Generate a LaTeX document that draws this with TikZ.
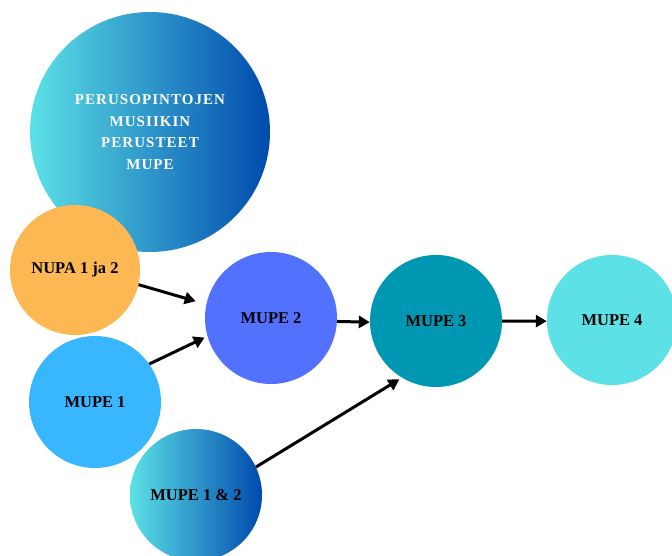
\documentclass[tikz,border=0pt]{standalone}
\usepackage{fontspec}
\setmainfont{Liberation Serif}
\newfontfamily\spacedfont[LetterSpace=7]{Liberation Serif}
\usetikzlibrary{arrows.meta}
\definecolor{gradL}{HTML}{5CE1E6}
\definecolor{gradR}{HTML}{004AAD}
\definecolor{nupaC}{HTML}{FDB753}
\definecolor{mupeA}{HTML}{38B6FF}
\definecolor{mupeB}{HTML}{5271FF}
\definecolor{mupeC}{HTML}{0097B2}
\definecolor{mupeD}{HTML}{5CE1E6}
\tikzset{
  bubble/.style={circle, inner sep=0pt, minimum size=132pt, text=black,
    font=\fontsize{16.5}{19}\selectfont\bfseries},
  flow/.style={line width=3pt, -{Triangle[length=11pt,width=12pt]}}
}
\begin{document}
\begin{tikzpicture}[x=1pt,y=-1pt]
\useasboundingbox (0,0) rectangle (672,556);
\clip (0,0) rectangle (672,556);
\node[circle, inner sep=0pt, minimum size=240pt, left color=gradL, right color=gradR,
  text=white, align=center, font=\spacedfont\fontsize{15}{21.7}\selectfont\bfseries]
  (title) at (150,132) {PERUSOPINTOJEN\\MUSIIKIN\\PERUSTEET\\MUPE};
\node[bubble, fill=nupaC, minimum size=130pt] (nupa) at (75,270) {NUPA 1 ja 2};
\node[bubble, fill=mupeA] (mupe1) at (95,402) {MUPE 1};
\node[bubble, fill=mupeB] (mupe2) at (271,318) {MUPE 2};
\node[bubble, fill=mupeC] (mupe3) at (436,321) {MUPE 3};
\node[bubble, fill=mupeD, minimum size=130pt] (mupe4) at (612,320) {MUPE 4};
\node[bubble, left color=gradL, right color=gradR] (mupe12) at (196,495) {MUPE 1 \& 2};
\draw[flow, shorten >=11pt] (nupa.-13) -- (mupe2.168);
\draw[flow, shorten >=3pt] (mupe1.35) -- (mupe2.196);
\draw[flow] (mupe2.-3) -- (mupe3.181);
\draw[flow] (mupe3.0) -- (mupe4.181);
\draw[flow, shorten >=3pt] (mupe12.25) -- (mupe3.239);
\end{tikzpicture}
\end{document}
